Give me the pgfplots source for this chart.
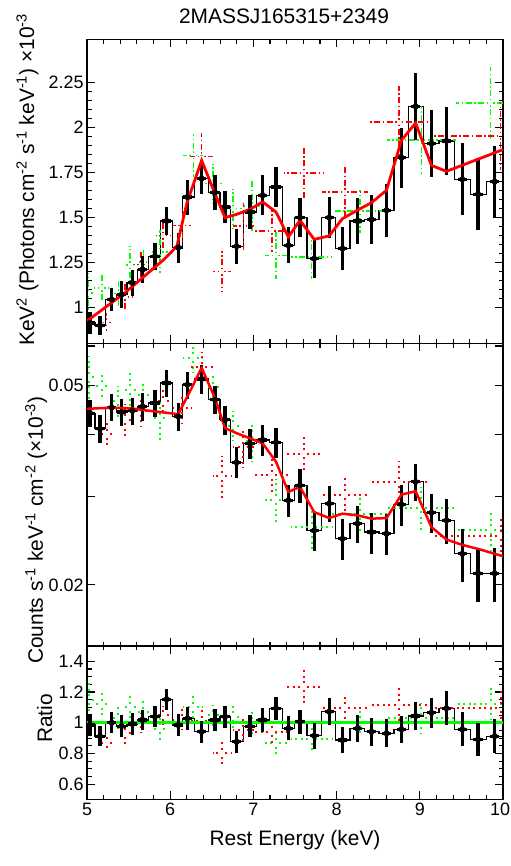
\documentclass[border=0pt]{standalone}
\usepackage{fontspec}
\setmainfont{Liberation Sans}
\usepackage{pgfplots}
\usepackage{pgfplotstable}
\pgfplotsset{compat=1.18}
\definecolor{xred}{RGB}{255,0,0}
\definecolor{xgreen}{RGB}{0,255,0}

% black data set: x, unfolded (top), counts (middle), ratio (bottom)
\pgfplotstableread{
x     yt    et    ym      em     yr    er
5.036 0.914 0.060 0.04406 0.0028 0.985 0.070
5.156 0.900 0.055 0.04100 0.0026 0.913 0.065
5.297 1.044 0.065 0.04522 0.0028 1.000 0.070
5.417 1.072 0.074 0.04428 0.0028 0.978 0.070
5.545 1.137 0.072 0.04455 0.0028 0.992 0.070
5.669 1.211 0.076 0.04543 0.0029 1.018 0.068
5.817 1.285 0.074 0.04615 0.0029 1.039 0.068
5.957 1.481 0.080 0.05062 0.0031 1.153 0.070
6.097 1.333 0.083 0.04339 0.0028 0.985 0.074
6.206 1.614 0.097 0.05023 0.0031 1.028 0.074
6.378 1.717 0.088 0.05158 0.0034 0.941 0.070
6.538 1.639 0.097 0.04687 0.0030 1.018 0.073
6.659 1.559 0.088 0.04272 0.0028 1.039 0.073
6.799 1.341 0.097 0.03514 0.0025 0.876 0.070
6.959 1.531 0.097 0.03836 0.0026 0.978 0.073
7.111 1.624 0.110 0.03896 0.0027 1.018 0.076
7.272 1.670 0.110 0.03854 0.0027 1.094 0.076
7.420 1.346 0.100 0.02952 0.0022 0.963 0.078
7.560 1.500 0.110 0.03163 0.0025 1.007 0.078
7.730 1.272 0.110 0.02569 0.0023 0.915 0.084
7.910 1.500 0.115 0.02906 0.0024 1.072 0.087
8.070 1.328 0.120 0.02472 0.0023 0.887 0.087
8.250 1.481 0.130 0.02651 0.0023 0.963 0.087
8.420 1.489 0.134 0.02550 0.0024 0.941 0.090
8.600 1.541 0.148 0.02530 0.0024 0.931 0.092
8.780 1.833 0.167 0.02897 0.0027 0.957 0.087
8.950 2.118 0.185 0.03212 0.0027 1.044 0.093
9.140 1.911 0.185 0.02788 0.0025 1.065 0.098
9.320 1.926 0.190 0.02691 0.0028 1.094 0.110
9.510 1.713 0.200 0.02307 0.0028 0.957 0.110
9.700 1.630 0.200 0.02109 0.0026 0.891 0.110
9.900 1.700 0.200 0.02109 0.0026 0.913 0.110
}\blk

\pgfplotstableread{
x     xe   yt    et    ym     em     yr    er
5.236 0.06 0.917 0.050 0.0400 0.0022 0.870 0.048
5.457 0.09 1.059 0.078 0.0427 0.0032 0.930 0.069
5.650 0.08 1.240 0.080 0.0445 0.0029 1.000 0.065
5.917 0.09 1.400 0.083 0.0465 0.0027 1.050 0.062
6.146 0.11 1.455 0.100 0.0451 0.0031 1.020 0.070
6.378 0.14 1.840 0.130 0.0544 0.0039 1.010 0.072
6.622 0.11 1.200 0.115 0.0330 0.0032 0.800 0.077
6.879 0.13 1.452 0.130 0.0377 0.0034 0.950 0.086
7.220 0.22 1.426 0.120 0.0331 0.0028 0.940 0.079
7.608 0.24 1.748 0.150 0.0366 0.0031 1.235 0.106
8.100 0.28 1.642 0.140 0.0303 0.0026 1.098 0.093
8.750 0.35 2.030 0.200 0.0321 0.0032 1.116 0.112
9.970 0.80 1.955 0.190 0.0251 0.0024 1.098 0.106
}\red

\pgfplotstableread{
x     xe   yt    et    ym     em     yr    er
5.020 0.07 1.080 0.110 0.0520 0.0052 1.150 0.115
5.180 0.09 1.109 0.070 0.0500 0.0032 1.120 0.071
5.377 0.06 1.078 0.076 0.0466 0.0033 1.030 0.072
5.517 0.07 1.235 0.106 0.0491 0.0042 1.100 0.094
5.677 0.07 1.253 0.083 0.0480 0.0032 1.070 0.071
5.877 0.10 1.310 0.120 0.0430 0.0040 0.960 0.088
6.278 0.12 1.846 0.120 0.0568 0.0037 1.100 0.072
6.518 0.10 1.689 0.110 0.0496 0.0032 1.050 0.068
6.758 0.10 1.550 0.110 0.0416 0.0029 1.040 0.073
6.980 0.10 1.563 0.140 0.0387 0.0035 1.000 0.090
7.270 0.13 1.289 0.130 0.0296 0.0030 0.865 0.087
7.700 0.25 1.281 0.120 0.0261 0.0025 0.894 0.084
8.280 0.33 1.535 0.120 0.0277 0.0022 1.006 0.078
9.020 0.42 1.930 0.190 0.0285 0.0029 1.028 0.103
9.850 0.42 2.137 0.200 0.0258 0.0024 1.122 0.105
}\grn

% model curves
\pgfplotstableread{
x     y
5.000 0.925
5.450 1.080
5.920 1.265
6.080 1.340
6.200 1.580
6.378 1.818
6.538 1.633
6.659 1.500
6.799 1.518
6.959 1.546
7.111 1.587
7.272 1.531
7.420 1.392
7.560 1.485
7.730 1.379
7.910 1.398
8.070 1.494
8.250 1.541
8.420 1.583
8.600 1.652
8.780 1.930
8.950 2.026
9.140 1.790
9.320 1.757
10.00 1.878
}\modtop

\pgfplotstableread{
x     y
5.000 0.04495
5.300 0.04520
5.550 0.04500
5.817 0.04441
6.097 0.04386
6.206 0.04758
6.378 0.05427
6.538 0.04723
6.659 0.04113
6.799 0.04018
6.959 0.03926
7.111 0.03836
7.272 0.03524
7.420 0.03067
7.560 0.03139
7.730 0.02796
7.910 0.02720
8.070 0.02775
8.250 0.02754
8.420 0.02712
8.600 0.02720
8.780 0.03030
8.950 0.03077
9.140 0.02609
9.320 0.02464
9.510 0.02404
9.700 0.02360
10.00 0.02282
}\modmid

\pgfplotsset{
  panel/.style={
    scale only axis, width=416bp, anchor=south west,
    xmin=5, xmax=10, xtick={5,6,7,8,9,10}, minor x tick num=4,
    tick align=inside, major tick length=8bp, minor tick length=4.5bp,
    axis line style={line width=1.6bp},
    tick style={black, line width=1.1bp},
    tick label style={font=\fontsize{18}{20}\selectfont},
    label style={font=\fontsize{21}{24}\selectfont},
    /pgf/number format/assume math mode=true,
  },
  blkpts/.style={black, only marks, mark=*, mark size=2.8bp,
    error bars/.cd, x dir=both, x fixed=0.055, y dir=both, y explicit,
    error bar style={line width=3.2bp}, error mark=none},
  cross/.style 2 args={#1, only marks, mark=*, mark size=0pt,
    mark options={draw=none, fill=none},
    error bars/.cd, x dir=both, x explicit, y dir=both, y explicit,
    error bar style={#2}, error mark=none},
  dashdot/.style={line width=1.6bp, dash pattern=on 6bp off 2.5bp on 1.5bp off 2.5bp, dash phase=6bp},
  dots/.style={line width=2bp, dash pattern=on 2bp off 3.5bp, dash phase=2bp},
  steps/.style={black, line width=1.2bp, const plot mark mid},
}

\begin{document}
\begin{tikzpicture}
\path[use as bounding box] (0,0) rectangle (511bp,866bp);

% top panel: unfolded spectrum
\begin{axis}[panel, at={(87bp,522.5bp)}, height=304bp,
  ymin=0.8, ymax=2.49, ytick={1,1.25,1.5,1.75,2,2.25}, minor y tick num=4,
  xticklabels={},
  title={2MASSJ165315+2349},
  title style={at={(axis description cs:0.4736,1)}, anchor=base, yshift=10bp,
    font=\fontsize{21}{24}\selectfont},
  ylabel={KeV\textsuperscript{2} (Photons cm\textsuperscript{-2} s\textsuperscript{-1} keV\textsuperscript{-1}) ×10\textsuperscript{-3}},
  ylabel style={at={(axis description cs:-0.1274,0.539)}, anchor=base},
]
\addplot[steps] table[x=x, y=yt] {\blk};
\addplot[black, line width=1.2bp] coordinates {(4.98,0.914) (5.036,0.914)};
\addplot[black, line width=1.2bp] coordinates {(9.9,1.70) (10,1.70)};
\addplot[cross={xgreen}{dashdot}] table[x=x, y=yt, x error=xe, y error=et] {\grn};
\addplot[cross={xred}{dashdot}] table[x=x, y=yt, x error=xe, y error=et] {\red};
\addplot[blkpts] table[x=x, y=yt, y error=et] {\blk};
\addplot[xred, line width=2.8bp] table[x=x, y=y] {\modtop};
\end{axis}

% middle panel: folded counts
\begin{axis}[panel, at={(87bp,220bp)}, height=302.5bp,
  ymode=log, ymin=0.0151, ymax=0.0607,
  ytick={0.02,0.03,0.04,0.05,0.06}, yticklabels={0.02,,,0.05,},
  xticklabels={},
  ylabel={Counts s\textsuperscript{-1} keV\textsuperscript{-1} cm\textsuperscript{-2} (×10\textsuperscript{-3})},
  ylabel style={at={(axis description cs:-0.1058,0.383)}, anchor=base},
]
\addplot[steps] table[x=x, y=ym] {\blk};
\addplot[black, line width=1.2bp] coordinates {(4.98,0.04406) (5.036,0.04406)};
\addplot[black, line width=1.2bp] coordinates {(9.9,0.02109) (10,0.02109)};
\addplot[cross={xgreen}{dots}] table[x=x, y=ym, x error=xe, y error=em] {\grn};
\addplot[cross={xred}{dots}] table[x=x, y=ym, x error=xe, y error=em] {\red};
\addplot[blkpts] table[x=x, y=ym, y error=em] {\blk};
\addplot[xred, line width=2.5bp] table[x=x, y=y] {\modmid};
\end{axis}

% bottom panel: ratio
\begin{axis}[panel, at={(87bp,66.5bp)}, height=153.5bp,
  ymin=0.5, ymax=1.5, ytick={0.6,0.8,1,1.2,1.4}, minor y tick num=3,
  xticklabels={5,6,7,8,9,\hspace*{-6bp}10},
  xlabel={Rest Energy (keV)},
  xlabel style={at={(axis description cs:0.5,0)}, anchor=base, yshift=-46bp},
  ylabel={Ratio},
  ylabel style={at={(axis description cs:-0.0841,0.528)}, anchor=base},
]
\addplot[steps] table[x=x, y=yr] {\blk};
\addplot[black, line width=1.2bp] coordinates {(4.98,0.985) (5.036,0.985)};
\addplot[black, line width=1.2bp] coordinates {(9.9,0.913) (10,0.913)};
\addplot[cross={xgreen}{dots}] table[x=x, y=yr, x error=xe, y error=er] {\grn};
\addplot[cross={xred}{dots}] table[x=x, y=yr, x error=xe, y error=er] {\red};
\addplot[xgreen, line width=2.5bp] coordinates {(5,1) (10,1)};
\addplot[blkpts] table[x=x, y=yr, y error=er] {\blk};
\end{axis}
\end{tikzpicture}
\end{document}
